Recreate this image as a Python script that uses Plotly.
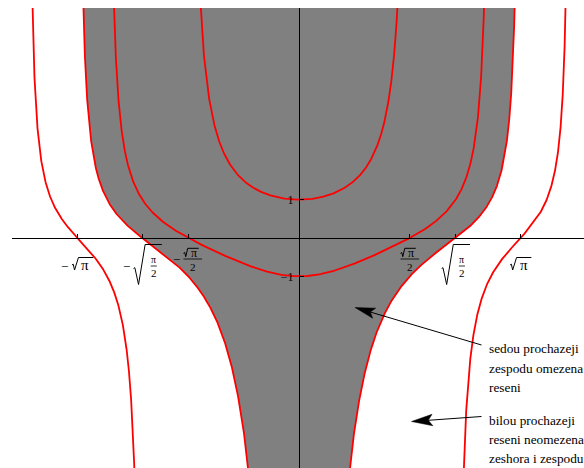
import numpy as np
import plotly.graph_objects as go

# Solutions of y' = 2x(1 + y^2), i.e. y = tan(x^2 + c).
# Each drawn solution is fixed by one point it passes through.
point_x = [0.0, np.sqrt(np.pi) / 2, np.sqrt(np.pi / 2), np.sqrt(np.pi)]
point_y = [1.0, 0.0, 0.0, 0.0]
boundary_index = 2  # the solution through (sqrt(pi/2), 0) bounds the shaded set

x_tick_vals = [-np.sqrt(np.pi), -np.sqrt(np.pi / 2), -np.sqrt(np.pi) / 2,
               np.sqrt(np.pi) / 2, np.sqrt(np.pi / 2), np.sqrt(np.pi)]
y_tick_vals = [-1, 1]
y_tick_text = ["\u22121", "1"]

note_grey = ["sedou prochazeji", "zespodu omezena", "reseni"]
note_white = ["bilou prochazeji", "reseni neomezena", "zeshora i zespodu"]

# ---- layout geometry ----
W, H = 584, 468
ML, MR, MT, MB = 12, 0, 8, 0
X_RANGE = [-2.296, 2.28]
Y_RANGE = [-6.0, 6.0]
PX_X = (W - ML - MR) / (X_RANGE[1] - X_RANGE[0])
PX_Y = (H - MT - MB) / (Y_RANGE[1] - Y_RANGE[0])


def px_to_x(px):
    return X_RANGE[0] + (px - ML) / PX_X


def py_to_y(py):
    return Y_RANGE[1] - (py - MT) / PX_Y


SERIF = "Liberation Serif"
RED = "#ff0000"
GREY = "#808080"


def solution_branch(c, ylim):
    """x, y of the branch of tan(x^2 + c) with x^2 + c in (-pi/2, pi/2)."""
    hi = np.arctan(ylim)
    lo = max(-hi, c)
    th = np.linspace(lo, hi, 3000)
    r = np.sqrt(np.clip(th - c, 0, None))
    y = np.tan(th)
    if c > -np.pi / 2:
        # connected through x = 0
        xs = np.concatenate([-r[::-1], r])
        ys = np.concatenate([y[::-1], y])
        return list(xs), list(ys)
    # two separate branches, one each side of the y axis
    xs = list(-r[::-1]) + [None] + list(r)
    ys = list(y[::-1]) + [None] + list(y)
    return xs, ys


consts = [np.arctan(yy) - xx ** 2 for xx, yy in zip(point_x, point_y)]

fig = go.Figure()

# shaded set: points whose solution is bounded from below
cb = consts[boundary_index]
hi = np.arctan(6.5)
th = np.linspace(-hi, hi, 3000)
r = np.sqrt(th - cb)
fx = list(-r[::-1]) + list(r)
fy = list(np.tan(th)[::-1]) + list(np.tan(th))
fig.add_trace(go.Scatter(x=fx, y=fy, mode="lines", fill="toself",
                         fillcolor=GREY, line=dict(width=0, color=GREY),
                         hoverinfo="skip", showlegend=False))

for c in consts:
    xs, ys = solution_branch(c, 6.6)
    fig.add_trace(go.Scatter(x=xs, y=ys, mode="lines",
                             line=dict(color=RED, width=1.8),
                             hoverinfo="skip", showlegend=False))

shapes = []
annotations = []


def txt(xv, dx, dy, s, size):
    annotations.append(dict(x=xv, y=0, xref="x", yref="y", xshift=dx, yshift=-dy,
                            text=s, showarrow=False, xanchor="center", yanchor="middle",
                            font=dict(family=SERIF, size=size, color="black")))


def radical(xv, xl, xb, xt, yb, yt, xe):
    ym = yt + 0.6 * (yb - yt)
    pts = [(xl, ym), (xl + 1.3, ym - 0.8), (xb, yb), (xt, yt), (xe, yt)]
    path = "M " + " L ".join(f"{a:.2f},{-b:.2f}" for a, b in pts)
    shapes.append(dict(type="path", xref="x", yref="y", xsizemode="pixel",
                       ysizemode="pixel", xanchor=xv, yanchor=0, path=path,
                       line=dict(color="black", width=1)))


def bar(xv, x0, x1, yy):
    shapes.append(dict(type="line", xref="x", yref="y", xsizemode="pixel",
                       ysizemode="pixel", xanchor=xv, yanchor=0,
                       x0=x0, x1=x1, y0=-yy, y1=-yy,
                       line=dict(color="black", width=0.8)))


MINUS = "\u2212"
PI = "\u03c0"

# tick labels drawn as small typeset expressions
for xv in x_tick_vals:
    neg = xv < 0
    a = abs(xv)
    if np.isclose(a, np.sqrt(np.pi)):           # sqrt(pi)
        xl = -5.5 if neg else -10.5
        if neg:
            txt(xv, -12.5, 28, MINUS, 13)
        radical(xv, xl, xl + 2.6, xl + 6.5, 32, 19.5, xl + 21.3)
        txt(xv, xl + 13.5, 27, PI, 15)
    elif np.isclose(a, np.sqrt(np.pi / 2)):     # sqrt(pi/2)
        s = 5.2 if neg else 0.0
        if neg:
            txt(xv, -16, 28.7, MINUS, 13)
        radical(xv, -14 + s, -9 + s, -2.4 + s, 46.5, 6.5, 14.3 + s)
        txt(xv, 6 + s, 21, PI, 10)
        bar(xv, 3.2 + s, 9.3 + s, 28)
        txt(xv, 6.2 + s, 35, "2", 11)
    else:                                        # sqrt(pi)/2
        s = 4.5 if neg else 0.0
        if neg:
            txt(xv, -11.8, 21, MINUS, 13)
        radical(xv, -9.3 + s, -7 + s, -5 + s, 18.7, 10.3, 6 + s)
        txt(xv, 0.8 + s, 14.5, PI, 12)
        bar(xv, -9.3 + s, 9.3 + s, 21)
        txt(xv, 0 + s, 28.7, "2", 11)

# explanatory notes
for i, line in enumerate(note_grey):
    annotations.append(dict(x=px_to_x(486.5), y=py_to_y([348.5, 368, 387.5][i]),
                            xref="x", yref="y", text=line, showarrow=False,
                            xanchor="left", yanchor="middle",
                            font=dict(family=SERIF, size=13.3, color="black")))
for i, line in enumerate(note_white):
    annotations.append(dict(x=px_to_x(487), y=py_to_y([420, 439, 458][i]),
                            xref="x", yref="y", text=line, showarrow=False,
                            xanchor="left", yanchor="middle",
                            font=dict(family=SERIF, size=13.3, color="black")))


def arrow(tip_px, tail_px, L=20, Wd=10.5, notch=0.8):
    tx, ty = tip_px
    ux, uy = tail_px[0] - tx, tail_px[1] - ty
    n = np.hypot(ux, uy)
    ux, uy = ux / n, uy / n
    nx, ny = -uy, ux
    xa, ya = px_to_x(tx), py_to_y(ty)
    # shaft
    shapes.append(dict(type="line", xref="x", yref="y", xsizemode="pixel",
                       ysizemode="pixel", xanchor=xa, yanchor=ya,
                       x0=L * 0.7 * ux, y0=-L * 0.7 * uy,
                       x1=tail_px[0] - tx, y1=-(tail_px[1] - ty),
                       line=dict(color="black", width=1)))
    pts = [(0, 0),
           (L * ux + Wd / 2 * nx, L * uy + Wd / 2 * ny),
           (notch * L * ux, notch * L * uy),
           (L * ux - Wd / 2 * nx, L * uy - Wd / 2 * ny)]
    path = "M " + " L ".join(f"{a:.2f},{-b:.2f}" for a, b in pts) + " Z"
    shapes.append(dict(type="path", xref="x", yref="y", xsizemode="pixel",
                       ysizemode="pixel", xanchor=xa, yanchor=ya, path=path,
                       fillcolor="black", line=dict(color="black", width=0.5)))


arrow((355, 307.5), (481.5, 345))
arrow((411.5, 421.5), (481.5, 416.5), L=21, Wd=11.5)

fig.update_layout(
    width=W, height=H,
    margin=dict(l=ML, r=MR, t=MT, b=MB, pad=0, autoexpand=False),
    paper_bgcolor="white", plot_bgcolor="white",
    showlegend=False,
    font=dict(family=SERIF, color="black"),
    shapes=shapes, annotations=annotations,
    xaxis=dict(range=X_RANGE, showgrid=False, zeroline=False,
               showline=True, linecolor="black", linewidth=1,
               anchor="free", position=(0 - Y_RANGE[0]) / (Y_RANGE[1] - Y_RANGE[0]),
               ticks="inside", ticklen=4, tickcolor="black", tickwidth=1,
               tickvals=x_tick_vals, showticklabels=False, automargin=False,
               fixedrange=True),
    yaxis=dict(range=Y_RANGE, showgrid=False, zeroline=False,
               showline=True, linecolor="black", linewidth=1,
               anchor="free", position=(0 - X_RANGE[0]) / (X_RANGE[1] - X_RANGE[0]),
               ticks="inside", ticklen=4, tickcolor="black", tickwidth=1,
               tickvals=y_tick_vals, ticktext=y_tick_text,
               tickfont=dict(family=SERIF, size=12, color="black"),
               ticklabelstandoff=3,
               automargin=False, fixedrange=True),
)

fig.write_html("out.html", config={"displayModeBar": False})
